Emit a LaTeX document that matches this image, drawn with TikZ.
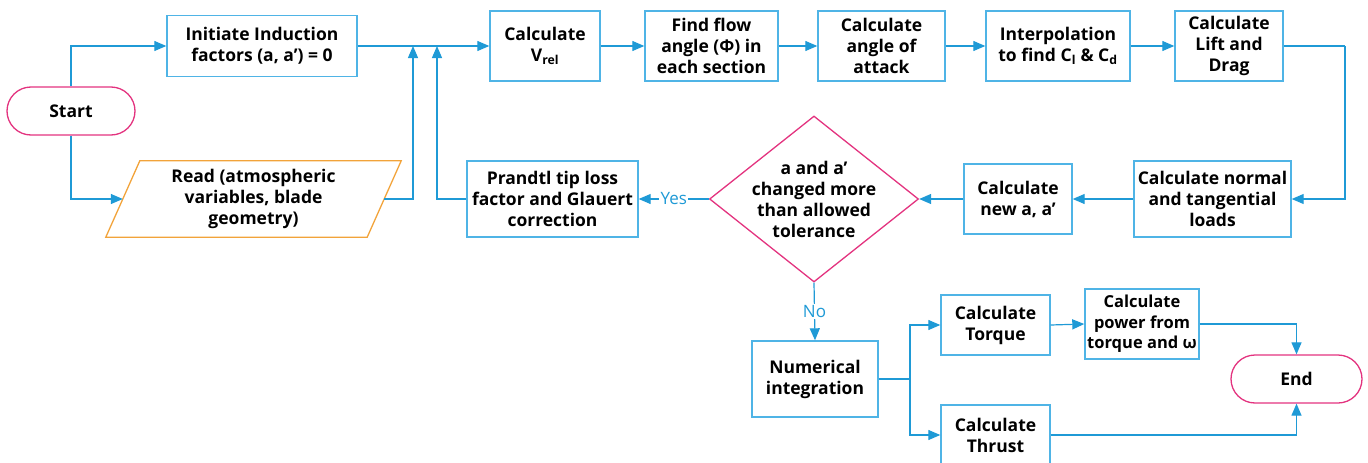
\documentclass[tikz,border=0pt]{standalone}
\usepackage{fontspec}
\setmainfont{Open Sans}
\usetikzlibrary{arrows.meta,shapes.geometric}
\definecolor{lineblue}{HTML}{1F9AD6}
\definecolor{boxblue}{HTML}{4FB4E6}
\definecolor{magen}{HTML}{E3337F}
\definecolor{orng}{HTML}{F2A33A}
\tikzset{
  procbox/.style={draw=boxblue, line width=1.4pt, fill=white, inner sep=0pt, align=center,
    font=\fontsize{17.5}{21}\selectfont\bfseries},
  pill/.style={draw=magen, line width=1.3pt, rounded corners=24pt, inner sep=0pt, align=center,
    font=\fontsize{17.5}{21}\selectfont\bfseries},
  txt/.style={inner sep=0pt, align=center, font=\fontsize{17.5}{21}\selectfont\bfseries},
  conn/.style={draw=lineblue, line width=1.2pt},
  arr/.style={conn, -{Triangle[length=12pt,width=10pt]}},
  lbl/.style={fill=white, inner sep=1.5pt, text=lineblue, font=\fontsize{17}{20}\selectfont}
}
\begin{document}
\begin{tikzpicture}[x=1pt,y=-1pt]
\useasboundingbox (0,0) rectangle (1368,463);
% nodes
\node[pill, minimum width=128, minimum height=48] (start) at (71,111) {Start};
\node[procbox, minimum width=190, minimum height=61] (init) at (262,46) {Initiate Induction\\factors (a, a’) = 0};
\node[txt, minimum width=261, minimum height=76] (read) at (253.5,199) {Read (atmospheric\\variables, blade\\geometry)};
\draw[orng, line width=1.3pt] ([xshift=17pt]read.north west) -- ([xshift=17pt]read.north east)
  -- ([xshift=-17pt]read.south east) -- ([xshift=-17pt]read.south west) -- cycle;
\node[procbox, minimum width=110, minimum height=70] (vrel) at (545,46) {Calculate\\V\textsubscript{rel}};
\node[procbox, minimum width=133, minimum height=70] (flow) at (711.5,46) {Find flow\\angle (Φ) in\\each section};
\node[procbox, minimum width=127, minimum height=70] (aoa) at (881.5,46) {Calculate\\angle of\\attack};
\node[procbox, minimum width=144, minimum height=70] (interp) at (1058,46) {Interpolation\\to find C\textsubscript{l} \& C\textsubscript{d}};
\node[procbox, minimum width=108, minimum height=70] (lift) at (1229,46) {Calculate\\Lift and\\Drag};
\node[procbox, minimum width=157, minimum height=76] (loads) at (1212.5,199) {Calculate normal\\and tangential\\loads};
\node[procbox, minimum width=108, minimum height=70] (newa) at (1018,199) {Calculate\\new a, a’};
\node[diamond, draw=magen, line width=1.3pt, minimum width=209, minimum height=166, inner sep=0pt] (dec) at (814,199) {};
\node[txt] (dect) at (dec.center) {a and a’\\changed more\\than allowed\\tolerance};
\node[procbox, minimum width=171, minimum height=76] (prandtl) at (552.5,199) {Prandtl tip loss\\factor and Glauert\\correction};
\node[procbox, minimum width=126, minimum height=76] (numint) at (815,379) {Numerical\\integration};
\node[procbox, minimum width=109, minimum height=60] (torque) at (995.5,325) {Calculate\\Torque};
\node[procbox, minimum width=114, minimum height=70, font=\fontsize{16.5}{20.5}\selectfont\bfseries] (power) at (1142,324) {Calculate\\power from\\torque and ω};
\node[procbox, minimum width=109, minimum height=60] (thrust) at (995.5,435) {Calculate\\Thrust};
\node[pill, minimum width=131, minimum height=48] (end) at (1296.5,379) {End};
% junction coordinates
\coordinate (j1) at (413,46);
\coordinate (j2) at (437,46);
\coordinate (c1) at (1345,46);
\coordinate (fork) at (910,379);
% connectors
\draw[arr] (start.north) |- (init.west);
\draw[arr] (start.south) |- (read.west);
\draw[arr] (init.east) -- (vrel.west);
\draw[arr] (read.east) -| (j1);
\draw[arr] (prandtl.west) -| (j2);
\draw[arr] (vrel.east) -- (flow.west);
\draw[arr] (flow.east) -- (aoa.west);
\draw[arr] (aoa.east) -- (interp.west);
\draw[arr] (interp.east) -- (lift.west);
\draw[conn] (lift.east) -- (c1);
\draw[arr] (c1) |- (loads.east);
\draw[arr] (loads.west) -- (newa.east);
\draw[arr] (newa.west) -- (dec.east);
\draw[arr] (dec.west) -- node[lbl] {Yes} (prandtl.east);
\draw[arr] (dec.south) -- node[lbl] {No} (numint.north);
\draw[conn] (numint.east) -- (fork);
\draw[arr] (fork) |- (torque.west);
\draw[arr] (fork) |- (thrust.west);
\draw[arr] (torque.east) -- (power.west);
\draw[arr] (power.east) -| (end.north);
\draw[arr] (thrust.east) -| (end.south);
\end{tikzpicture}
\end{document}
